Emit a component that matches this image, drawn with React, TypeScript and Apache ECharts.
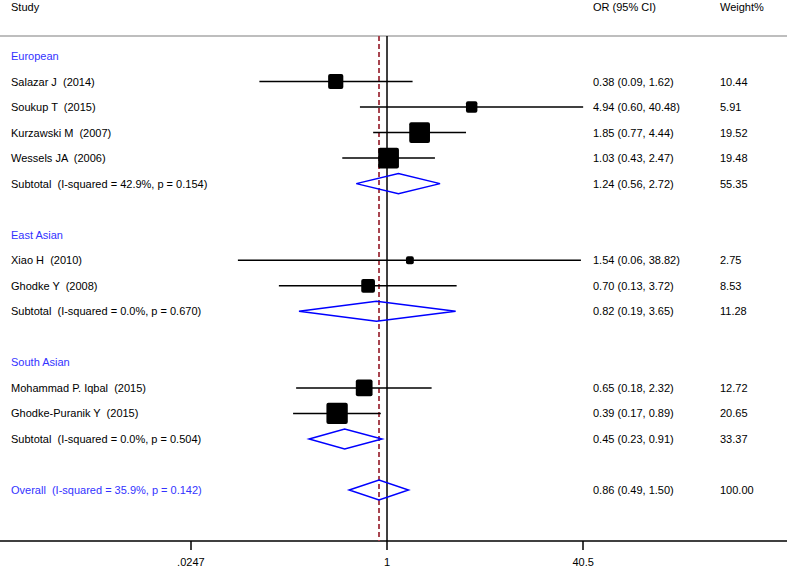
import React, { useEffect, useRef } from "react";
import * as echarts from "echarts";

// ---------- data ----------
const groupNames = ["European", "East Asian", "South Asian"];
const studyLabels = [
  "Salazar J  (2014)",
  "Soukup T  (2015)",
  "Kurzawski M  (2007)",
  "Wessels JA  (2006)",
  "Xiao H  (2010)",
  "Ghodke Y  (2008)",
  "Mohammad P. Iqbal  (2015)",
  "Ghodke-Puranik Y  (2015)",
];
const studyGroup = [0, 0, 0, 0, 1, 1, 2, 2];
const studyOR = [0.38, 4.94, 1.85, 1.03, 1.54, 0.7, 0.65, 0.39];
const studyLower = [0.09, 0.6, 0.77, 0.43, 0.06, 0.13, 0.18, 0.17];
const studyUpper = [1.62, 40.48, 4.44, 2.47, 38.82, 3.72, 2.32, 0.89];
const studyWeight = [10.44, 5.91, 19.52, 19.48, 2.75, 8.53, 12.72, 20.65];

const subtotalLabels = [
  "Subtotal  (I-squared = 42.9%, p = 0.154)",
  "Subtotal  (I-squared = 0.0%, p = 0.670)",
  "Subtotal  (I-squared = 0.0%, p = 0.504)",
];
const subtotalOR = [1.24, 0.82, 0.45];
const subtotalLower = [0.56, 0.19, 0.23];
const subtotalUpper = [2.72, 3.65, 0.91];
const subtotalWeight = [55.35, 11.28, 33.37];

const overallLabel = "Overall  (I-squared = 35.9%, p = 0.142)";
const overallOR = 0.86;
const overallLower = 0.49;
const overallUpper = 1.5;
const overallWeight = 100.0;

const headerLabels = ["Study", "OR (95% CI)", "Weight%"];
const axisTickValues = [0.0247, 1, 40.5];
const axisTickLabels = [".0247", "1", "40.5"];

// ---------- layout / style ----------
const FONT = "'Liberation Sans', Arial, sans-serif";
const BLUE_TEXT = "#3333ff";
const BLUE = "#0000ff";
const COL_X = [11, 593, 720];

type Row = {
  row: number;
  kind: "header" | "study" | "subtotal" | "overall";
  label: string;
  or?: number;
  lo?: number;
  hi?: number;
  w?: number;
};

function buildRows(): Row[] {
  const rows: Row[] = [];
  let r = 0;
  groupNames.forEach((g, gi) => {
    rows.push({ row: r++, kind: "header", label: g });
    studyGroup.forEach((sg, i) => {
      if (sg === gi)
        rows.push({
          row: r++,
          kind: "study",
          label: studyLabels[i],
          or: studyOR[i],
          lo: studyLower[i],
          hi: studyUpper[i],
          w: studyWeight[i],
        });
    });
    rows.push({
      row: r++,
      kind: "subtotal",
      label: subtotalLabels[gi],
      or: subtotalOR[gi],
      lo: subtotalLower[gi],
      hi: subtotalUpper[gi],
      w: subtotalWeight[gi],
    });
    r++; // blank row
  });
  rows.push({
    row: r,
    kind: "overall",
    label: overallLabel,
    or: overallOR,
    lo: overallLower,
    hi: overallUpper,
    w: overallWeight,
  });
  return rows;
}

export default function App() {
  const ref = useRef<HTMLDivElement>(null);

  useEffect(() => {
    const chart = echarts.init(ref.current!, null, { renderer: "svg" });
    const rows = buildRows();
    const studies = rows.filter((r) => r.kind === "study");
    const diamonds = rows.filter((r) => r.kind === "subtotal" || r.kind === "overall");

    const xMin = -7.302;
    const xMax = 7.547;
    const tickLn = axisTickValues.map((v) => Math.log(v));

    const option: any = {
      animation: false,
      grid: { left: 0, right: 0, top: 36, bottom: 26 },
      xAxis: [
        {
          type: "value",
          min: xMin,
          max: xMax,
          position: "bottom",
          axisLine: { show: true, onZero: false, lineStyle: { color: "#000", width: 1.5 } },
          splitLine: { show: false },
          axisTick: {
            show: true,
            length: 9,
            lineStyle: { color: "#000", width: 1.5 },
            customValues: tickLn,
          },
          axisLabel: {
            show: true,
            customValues: tickLn,
            margin: 15,
            color: "#000",
            fontSize: 11,
            fontFamily: FONT,
            formatter: (v: number) => {
              const i = tickLn.findIndex((t) => Math.abs(t - v) < 1e-6);
              return i >= 0 ? axisTickLabels[i] : "";
            },
          },
        },
        {
          type: "value",
          min: xMin,
          max: xMax,
          position: "top",
          axisLine: { show: true, onZero: false, lineStyle: { color: "#a8a8a8", width: 1.5 } },
          splitLine: { show: false },
          axisTick: { show: false },
          axisLabel: { show: false },
        },
      ],
      yAxis: {
        type: "value",
        inverse: true,
        min: -0.783,
        max: 18.997,
        show: false,
      },
      graphic: headerLabels.map((t, i) => ({
        type: "text",
        left: COL_X[i],
        top: 1,
        style: { text: t, fill: "#000", fontSize: 11, fontFamily: FONT },
      })),
      series: [
        {
          type: "custom",
          name: "refLines",
          z: 1,
          silent: true,
          data: [
            [Math.log(1), 0],
            [Math.log(overallOR), 1],
          ],
          encode: { x: 0 },
          renderItem: (params: any, api: any) => {
            const cs = params.coordSys;
            const x = api.coord([api.value(0), 0])[0];
            const dashed = api.value(1) === 1;
            return {
              type: "line",
              shape: { x1: x, y1: cs.y, x2: x, y2: cs.y + cs.height },
              style: dashed
                ? { stroke: "#a8444f", lineWidth: 2, lineDash: [5, 3] }
                : { stroke: "#000", lineWidth: 1.5 },
            };
          },
        },
        {
          type: "custom",
          name: "studies",
          z: 3,
          silent: true,
          data: studies.map((s) => [
            Math.log(s.lo!),
            Math.log(s.hi!),
            Math.log(s.or!),
            s.row,
            s.w!,
          ]),
          encode: { x: [0, 1, 2], y: 3 },
          renderItem: (params: any, api: any) => {
            const y = api.value(3);
            const lo = api.coord([api.value(0), y]);
            const hi = api.coord([api.value(1), y]);
            const c = api.coord([api.value(2), y]);
            const size = 4.7 * Math.sqrt(api.value(4));
            return {
              type: "group",
              children: [
                {
                  type: "line",
                  shape: { x1: lo[0], y1: lo[1], x2: hi[0], y2: hi[1] },
                  style: { stroke: "#000", lineWidth: 1.5 },
                },
                {
                  type: "rect",
                  shape: {
                    x: c[0] - size / 2,
                    y: c[1] - size / 2,
                    width: size,
                    height: size,
                    r: 2,
                  },
                  style: { fill: "#000" },
                },
              ],
            };
          },
        },
        {
          type: "custom",
          name: "diamonds",
          z: 3,
          silent: true,
          data: diamonds.map((d) => [
            Math.log(d.lo!),
            Math.log(d.hi!),
            Math.log(d.or!),
            d.row,
          ]),
          encode: { x: [0, 1, 2], y: 3 },
          renderItem: (params: any, api: any) => {
            const y = api.value(3);
            const lo = api.coord([api.value(0), y]);
            const hi = api.coord([api.value(1), y]);
            const c = api.coord([api.value(2), y]);
            const h = 10;
            return {
              type: "polygon",
              shape: {
                points: [
                  [lo[0], lo[1]],
                  [c[0], c[1] - h],
                  [hi[0], hi[1]],
                  [c[0], c[1] + h],
                ],
              },
              style: { fill: "none", stroke: BLUE, lineWidth: 1.5 },
            };
          },
        },
        {
          type: "custom",
          name: "texts",
          z: 4,
          silent: true,
          data: rows.map((r) => [0, r.row]),
          encode: { x: 0, y: 1 },
          renderItem: (params: any, api: any) => {
            const r = rows[params.dataIndex];
            const y = api.coord([0, api.value(1)])[1];
            const color = r.kind === "header" || r.kind === "overall" ? BLUE_TEXT : "#000";
            const texts: string[] = [r.label];
            if (r.kind !== "header") {
              texts.push(`${r.or!.toFixed(2)} (${r.lo!.toFixed(2)}, ${r.hi!.toFixed(2)})`);
              texts.push(r.w!.toFixed(2));
            }
            return {
              type: "group",
              children: texts.map((t, i) => ({
                type: "text",
                x: COL_X[i],
                y,
                style: {
                  text: t,
                  fill: i === 0 ? color : "#000",
                  fontSize: 11,
                  fontFamily: FONT,
                  verticalAlign: "middle",
                  align: "left",
                },
              })),
            };
          },
        },
      ],
    };

    chart.setOption(option);
    return () => chart.dispose();
  }, []);

  return (
    <div
      ref={ref}
      style={{ position: "absolute", left: 0, top: 0, width: 787, height: 567 }}
    />
  );
}
